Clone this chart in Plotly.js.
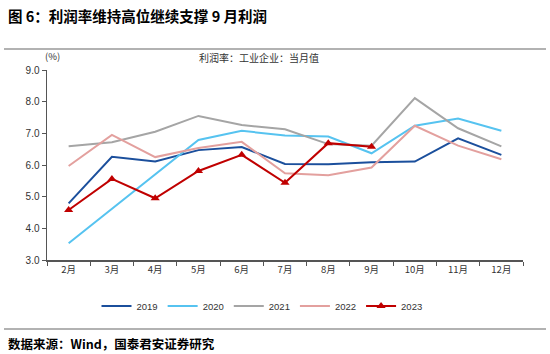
<!DOCTYPE html>
<html><head><meta charset="utf-8">
<script src="https://cdn.plot.ly/plotly-3.0.1.min.js"></script>
<style>body{margin:0;background:#fff}#c{width:550px;height:354px}</style>
</head><body><div id="c"></div>
<script>
const months = ['2月','3月','4月','5月','6月','7月','8月','9月','10月','11月','12月'];
const y2019 = [4.79,6.26,6.11,6.47,6.57,6.03,6.02,6.09,6.11,6.84,6.32];
const y2020 = [3.53,4.62,5.70,6.79,7.08,6.93,6.90,6.37,7.24,7.47,7.08];
const y2021 = [6.59,6.72,7.05,7.55,7.26,7.13,6.66,6.61,8.11,7.16,6.59];
const y2022 = [5.97,6.95,6.25,6.54,6.73,5.74,5.68,5.92,7.24,6.61,6.18];
const y2023 = [4.58,5.56,4.95,5.81,6.32,5.44,6.69,6.58];
const names = ['2019','2020','2021','2022','2023'];

const W=550,H=354,L=47,R=27,T=70,B=94;
const pw=W-L-R, ph=H-T-B;
const px = x => (x-L)/pw;
const py = y => (H-B-y)/ph;
const mk = (name,y,color,extra) => Object.assign({type:'scatter',mode:'lines',x:months.slice(0,y.length),y:y,name:name,
  line:{color:color,width:2}},extra||{});
const data = [
  mk(names[0],y2019,'#1B4F9C'),
  mk(names[1],y2020,'#56C3F0'),
  mk(names[2],y2021,'#A5A5A5'),
  mk(names[3],y2022,'#E3A09E'),
  mk(names[4],y2023,'#C00000',{mode:'lines+markers',marker:{symbol:'triangle-up',size:8,color:'#C00000'}})
];
const tickFont={family:'Liberation Sans, Arial, sans-serif',size:10,color:'#333'};
const cjk='Noto Sans CJK SC, sans-serif';
const layout={
  width:W,height:H,margin:{l:L,r:R,t:T,b:B},
  paper_bgcolor:'#fff',plot_bgcolor:'#fff',showlegend:true,
  xaxis:{type:'category',range:[-0.5,10.5],showgrid:false,showline:true,linecolor:'#555',linewidth:1.5,
    ticks:'outside',tickson:'boundaries',ticklen:4,tickcolor:'#555',tickfont:Object.assign({},tickFont,{family:cjk,size:9.5}),fixedrange:true},
  yaxis:{range:[3,9],dtick:1,tickformat:'.1f',showgrid:false,showline:true,linecolor:'#555',linewidth:1.5,zeroline:false,
    ticks:'outside',ticklen:4,tickcolor:'#555',tickfont:tickFont,fixedrange:true},
  legend:{orientation:'h',x:px(262),xanchor:'center',y:py(306),yanchor:'middle',font:{family:'Liberation Sans, Arial, sans-serif',size:9.5,color:'#333'},
    itemwidth:30,tracegroupgap:0},
  shapes:[
    {type:'line',xref:'paper',yref:'paper',x0:px(4),x1:px(546),y0:py(49),y1:py(49),line:{color:'#999',width:1.5}},
    {type:'line',xref:'paper',yref:'paper',x0:px(4),x1:px(546),y0:py(329),y1:py(329),line:{color:'#999',width:1.5}}
  ],
  annotations:[
    {xref:'paper',yref:'paper',x:px(6),y:py(15),xanchor:'left',yanchor:'middle',showarrow:false,
      text:'<b>图 6：利润率维持高位继续支撑 9 月利润</b>',font:{family:cjk,size:14.5,color:'#000'}},
    {xref:'paper',yref:'paper',x:px(43),y:py(56),xanchor:'left',yanchor:'middle',showarrow:false,
      text:'(%)',font:{family:cjk,size:9.5,color:'#333'}},
    {xref:'paper',yref:'paper',x:px(259),y:py(57),xanchor:'center',yanchor:'middle',showarrow:false,
      text:'利润率：工业企业：当月值',font:{family:cjk,size:10,color:'#333'}},
    {xref:'paper',yref:'paper',x:px(6),y:py(343),xanchor:'left',yanchor:'middle',showarrow:false,
      text:'<b>数据来源：Wind，国泰君安证券研究</b>',font:{family:cjk,size:12.5,color:'#000'}}
  ]
};
Plotly.newPlot('c',data,layout,{displayModeBar:false,staticPlot:true});
</script></body></html>
